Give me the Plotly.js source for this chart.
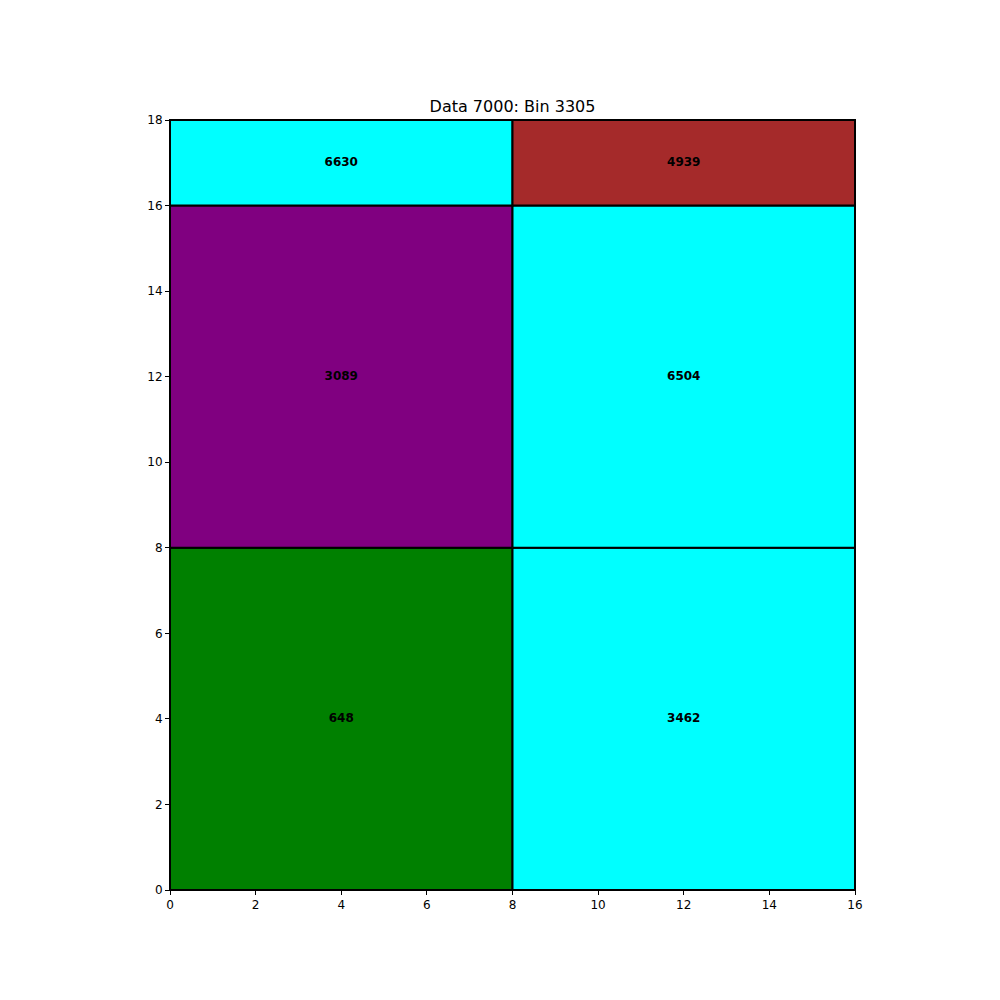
<!DOCTYPE html>
<html>
<head>
<meta charset="utf-8">
<script src="https://cdn.plot.ly/plotly-3.0.1.min.js"></script>
<style>body{margin:0;padding:0;background:#fff;}#chart{width:1000px;height:1000px;}</style>
</head>
<body>
<div id="chart"></div>
<script>
// Rectangle data
const rectX0 = [0, 8, 0, 8, 0, 8];
const rectX1 = [8, 16, 8, 16, 8, 16];
const rectY0 = [0, 0, 8, 8, 16, 16];
const rectY1 = [8, 8, 16, 16, 18, 18];
const rectValues = [648, 3462, 3089, 6504, 6630, 4939];
const rectColors = ["#008000", "#00FFFF", "#800080", "#00FFFF", "#00FFFF", "#A52A2A"];
const xTicks = [0, 2, 4, 6, 8, 10, 12, 14, 16];
const yTicks = [0, 2, 4, 6, 8, 10, 12, 14, 16, 18];
const chartTitle = "Data 7000: Bin 3305";

const traces = [];
for (let i = 0; i < rectValues.length; i++) {
  traces.push({
    type: "scatter",
    mode: "lines",
    x: [rectX0[i], rectX1[i], rectX1[i], rectX0[i], rectX0[i]],
    y: [rectY0[i], rectY0[i], rectY1[i], rectY1[i], rectY0[i]],
    fill: "toself",
    fillcolor: rectColors[i],
    line: {color: "black", width: 2},
    hoverinfo: "skip",
    showlegend: false
  });
}
traces.push({
  type: "scatter",
  mode: "text",
  x: rectValues.map((v, i) => (rectX0[i] + rectX1[i]) / 2),
  y: rectValues.map((v, i) => (rectY0[i] + rectY1[i]) / 2),
  text: rectValues.map(v => "<b>" + v + "</b>"),
  textposition: "middle center",
  textfont: {family: "DejaVu Sans", size: 12, color: "black"},
  showlegend: false,
  hoverinfo: "skip"
});

const layout = {
  width: 1000, height: 1000,
  margin: {l: 170, r: 145, t: 120, b: 110},
  paper_bgcolor: "white",
  plot_bgcolor: "white",
  title: {text: chartTitle, font: {family: "DejaVu Sans", size: 16, color: "black"}, x: 0.5125, xanchor: "center", y: 0.888, yanchor: "bottom"},
  font: {family: "DejaVu Sans", size: 12, color: "black"},
  xaxis: {range: [0, 16], tickvals: xTicks, ticks: "outside", ticklen: 4, tickcolor: "black", showgrid: false, zeroline: false, showline: true, linecolor: "black", linewidth: 1, mirror: true},
  yaxis: {range: [0, 18], tickvals: yTicks, ticks: "outside", ticklen: 4, tickcolor: "black", showgrid: false, zeroline: false, showline: true, linecolor: "black", linewidth: 1, mirror: true},
  showlegend: false
};
Plotly.newPlot("chart", traces, layout, {displayModeBar: false});
</script>
</body>
</html>
